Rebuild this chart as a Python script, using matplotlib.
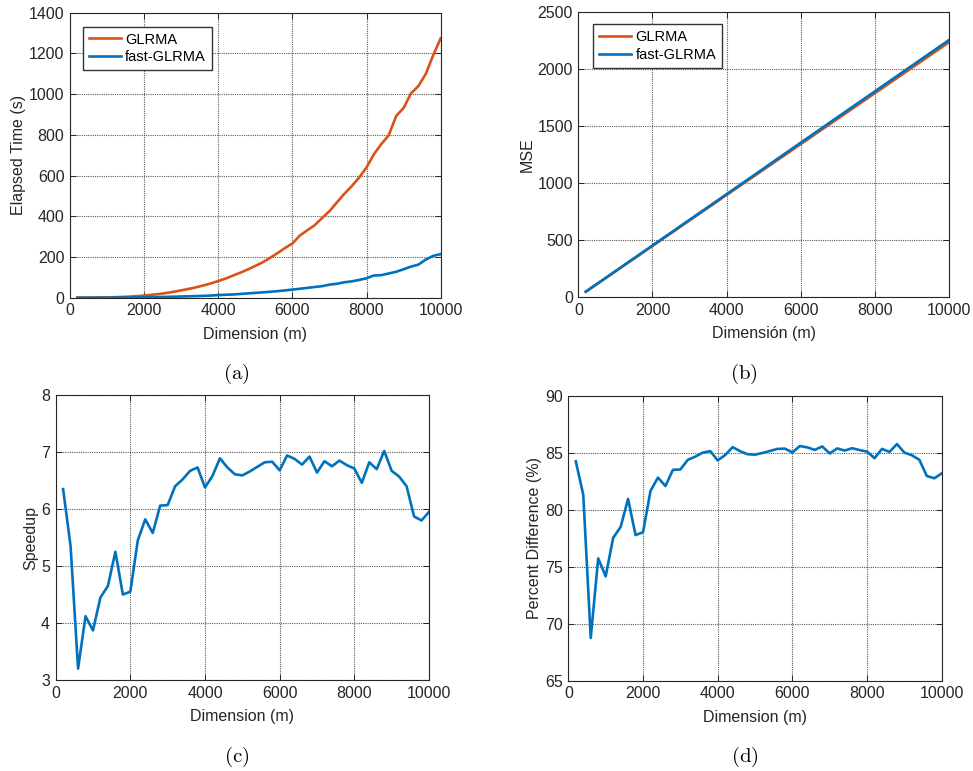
import matplotlib
matplotlib.use('Agg')
import matplotlib.pyplot as plt

# dimension m = 200, 400, ..., 10000
dims = [200, 400, 600, 800, 1000, 1200, 1400, 1600, 1800, 2000,
        2200, 2400, 2600, 2800, 3000, 3200, 3400, 3600, 3800, 4000,
        4200, 4400, 4600, 4800, 5000, 5200, 5400, 5600, 5800, 6000,
        6200, 6400, 6600, 6800, 7000, 7200, 7400, 7600, 7800, 8000,
        8200, 8400, 8600, 8800, 9000, 9200, 9400, 9600, 9800, 10000]

# elapsed time (s)
time_glrma = [0.01, 0.09, 0.3, 0.7, 1.3, 2.3, 3.6, 5.3, 7.5, 10.5,
              14, 18, 23, 29, 36, 43, 51, 60, 70, 82,
              94, 109, 123, 139, 156, 174, 196, 219, 244, 266,
              305, 331, 356, 391, 425, 468, 510, 548, 590, 640,
              705, 755, 798, 893, 932, 1004, 1040, 1100, 1192, 1274]
time_fast = [0.002, 0.017, 0.094, 0.17, 0.34, 0.52, 0.77, 1.01, 1.67, 2.31,
             2.57, 3.09, 4.12, 4.79, 5.93, 6.72, 7.82, 9.0, 10.4, 12.85,
             14.3, 15.8, 18.3, 21.0, 23.7, 26.1, 29.1, 32.1, 35.7, 39.8,
             43.9, 48.1, 52.5, 56.5, 64.0, 68.4, 75.6, 80.0, 87.1, 95.4,
             109.1, 110.7, 119.1, 127.2, 139.7, 152.8, 162.5, 187.4, 205.5, 214.1]

# MSE
mse_glrma = [49, 94, 138, 183, 227, 272, 317, 361, 406, 450,
             495, 540, 584, 629, 674, 718, 763, 807, 852, 897,
             941, 986, 1030, 1075, 1120, 1164, 1209, 1253, 1298, 1343,
             1387, 1432, 1477, 1521, 1566, 1610, 1655, 1700, 1744, 1789,
             1833, 1878, 1923, 1967, 2012, 2056, 2101, 2146, 2190, 2235]
mse_fast = [49, 94, 139, 184, 229, 274, 319, 364, 409, 454,
            499, 544, 589, 634, 679, 724, 769, 814, 859, 904,
            949, 994, 1039, 1084, 1129, 1175, 1220, 1265, 1310, 1355,
            1400, 1445, 1490, 1535, 1580, 1625, 1670, 1715, 1760, 1805,
            1850, 1895, 1940, 1985, 2030, 2075, 2120, 2165, 2210, 2255]

speedup = [6.35, 5.35, 3.2, 4.12, 3.87, 4.45, 4.65, 5.25, 4.5, 4.55,
           5.45, 5.82, 5.58, 6.06, 6.07, 6.4, 6.52, 6.67, 6.73, 6.38,
           6.58, 6.89, 6.73, 6.61, 6.59, 6.66, 6.74, 6.82, 6.83, 6.68,
           6.94, 6.88, 6.78, 6.92, 6.64, 6.84, 6.75, 6.85, 6.77, 6.71,
           6.46, 6.82, 6.70, 7.02, 6.67, 6.57, 6.40, 5.87, 5.80, 5.95]

pct_diff = [84.25, 81.31, 68.75, 75.73, 74.16, 77.53, 78.49, 80.95, 77.78, 78.02,
            81.65, 82.82, 82.08, 83.50, 83.53, 84.38, 84.66, 85.01, 85.14, 84.33,
            84.80, 85.49, 85.14, 84.87, 84.83, 84.98, 85.16, 85.34, 85.36, 85.03,
            85.59, 85.47, 85.25, 85.55, 84.94, 85.38, 85.19, 85.40, 85.23, 85.10,
            84.52, 85.34, 85.07, 85.76, 85.01, 84.78, 84.38, 82.96, 82.76, 83.19]

ORANGE = '#D95319'
BLUE = '#0072BD'

plt.rcParams['font.family'] = ['Liberation Sans', 'DejaVu Sans']
plt.rcParams['mathtext.fontset'] = 'cm'

fig = plt.figure(figsize=(9.73, 7.71), dpi=100)
ax_a = fig.add_axes([0.0719, 0.6139, 0.381, 0.3696])
ax_b = fig.add_axes([0.5944, 0.6144, 0.381, 0.3700])
ax_c = fig.add_axes([0.0572, 0.1180, 0.3837, 0.3696])
ax_d = fig.add_axes([0.5841, 0.1171, 0.3838, 0.3696])

FS = 11.5


def style(ax, ylim, yticks, xlabel, ylabel):
    ax.set_xlim(0, 10000)
    ax.set_xticks(range(0, 10001, 2000))
    ax.set_ylim(*ylim)
    ax.set_yticks(yticks)
    ax.grid(True, color='0.2', linestyle=(0, (1, 1)), linewidth=0.8, alpha=0.8)
    ax.tick_params(direction='in', length=4, width=0.7, top=True, right=True,
                   labelsize=FS, colors='0.15', pad=4)
    for s in ax.spines.values():
        s.set_color('0.15')
        s.set_linewidth(0.8)
    ax.set_axisbelow(True)
    ax.set_xlabel(xlabel, fontsize=FS, color='0.15', labelpad=6)
    ax.set_ylabel(ylabel, fontsize=FS, color='0.15', labelpad=2)


def add_legend(ax, anchor):
    ax.legend(loc='upper left', bbox_to_anchor=anchor, borderaxespad=0,
              fancybox=False, edgecolor='0.2', framealpha=1, fontsize=10.5,
              handlelength=2.2, borderpad=0.4, labelspacing=0.25, handletextpad=0.3)


lw = 1.9

ax_a.plot(dims, time_glrma, color=ORANGE, lw=lw, label='GLRMA')
ax_a.plot(dims, time_fast, color=BLUE, lw=lw, label='fast-GLRMA')
style(ax_a, (0, 1400), range(0, 1401, 200), 'Dimension (m)', 'Elapsed Time (s)')
add_legend(ax_a, (0.035, 0.951))

ax_b.plot(dims, mse_glrma, color=ORANGE, lw=lw, label='GLRMA')
ax_b.plot(dims, mse_fast, color=BLUE, lw=lw, label='fast-GLRMA')
style(ax_b, (0, 2500), range(0, 2501, 500), 'Dimensión (m)', 'MSE')
add_legend(ax_b, (0.0405, 0.957))

ax_c.plot(dims, speedup, color=BLUE, lw=lw)
style(ax_c, (3, 8), range(3, 9), 'Dimension (m)', 'Speedup')

ax_d.plot(dims, pct_diff, color=BLUE, lw=lw)
style(ax_d, (65, 90), range(65, 91, 5), 'Dimension (m)', 'Percent Difference (%)')

# subfigure captions
for x, y, s in [(236, 374, '(a)'), (744, 374, '(b)'), (237, 757, '(c)'), (745, 757, '(d)')]:
    fig.text(x / 973, 1 - y / 771, r'$\mathrm{%s}$' % s, ha='center', va='center', fontsize=15)

fig.savefig('out.png', dpi=100)
